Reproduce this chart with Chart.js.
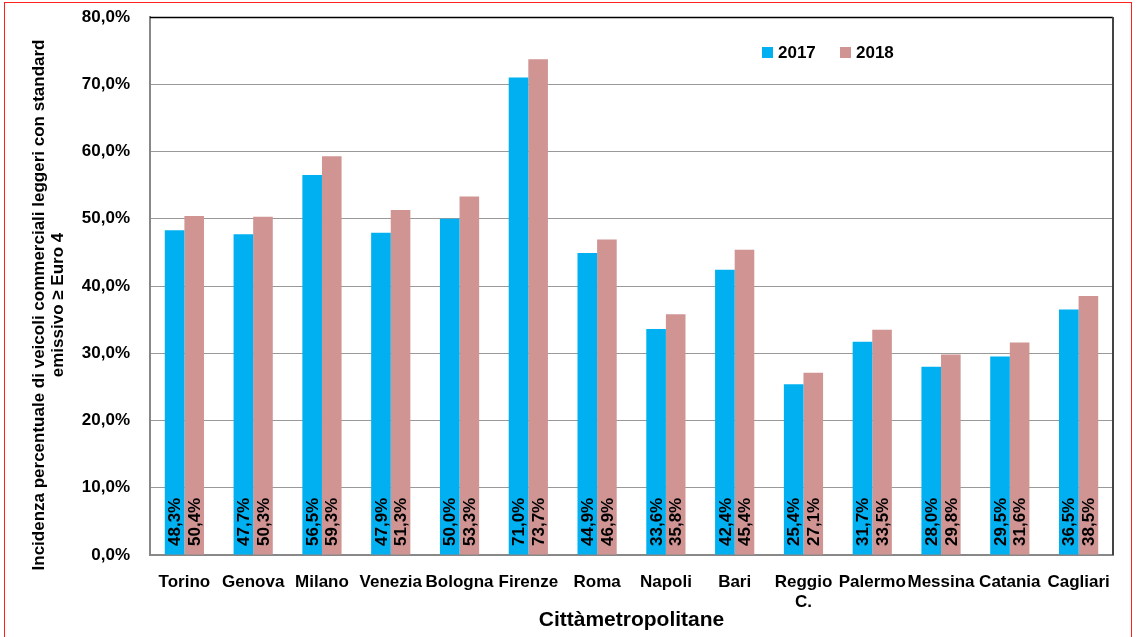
<!DOCTYPE html>
<html><head><meta charset="utf-8">
<script src="https://cdn.jsdelivr.net/npm/chart.js@4"></script>
<style>
html,body{margin:0;padding:0;background:#fff;overflow:hidden}
#wrap{position:relative;width:1139px;height:637px}
#frame{position:absolute;left:4px;top:2px;width:1128px;height:660px;border:1px solid #ff2020;box-sizing:border-box}
canvas{position:absolute;left:0;top:0}
</style></head><body>
<div id="wrap"><div id="frame"></div><canvas id="c" width="1139" height="637"></canvas></div>
<script>
const categories = ['Torino','Genova','Milano','Venezia','Bologna','Firenze','Roma','Napoli','Bari',['Reggio','C.'],'Palermo','Messina','Catania','Cagliari'];
const values2017 = [48.3,47.7,56.5,47.9,50.0,71.0,44.9,33.6,42.4,25.4,31.7,28.0,29.5,36.5];
const values2018 = [50.4,50.3,59.3,51.3,53.3,73.7,46.9,35.8,45.4,27.1,33.5,29.8,31.6,38.5];
const seriesLabels = ['2017','2018'];
const yTitle = ['Incidenza percentuale di veicoli commerciali leggeri con standard','emissivo \u2265 Euro 4'];
const xTitle = 'Citt\u00e0metropolitane';

const FF = '"Liberation Sans",Arial,sans-serif';
const fmt = v => v.toFixed(1).replace('.',',') + '%';

const labelPlugin = {
  id:'labels',
  afterDatasetsDraw(chart){
    const ctx = chart.ctx;
    const a = chart.chartArea;
    ctx.save();
    ctx.font = 'bold 17px ' + FF;
    ctx.fillStyle = '#000';
    ctx.textAlign = 'left';
    ctx.textBaseline = 'middle';
    chart.data.datasets.forEach((ds,di)=>{
      const meta = chart.getDatasetMeta(di);
      meta.data.forEach((bar,i)=>{
        ctx.save();
        ctx.translate(bar.x+1, a.bottom - 9);
        ctx.rotate(-Math.PI/2);
        ctx.fillText(fmt(ds.data[i]),0,0);
        ctx.restore();
      });
    });
    // plot border top / right
    ctx.strokeStyle = '#000'; ctx.lineWidth = 1.5;
    ctx.beginPath(); ctx.moveTo(a.left, a.top+0.5); ctx.lineTo(a.right, a.top+0.5); ctx.stroke();
    ctx.strokeStyle = '#444'; ctx.lineWidth = 2;
    ctx.beginPath(); ctx.moveTo(a.right, a.top); ctx.lineTo(a.right, a.bottom); ctx.stroke();
    // legend
    ctx.font = 'bold 17px ' + FF;
    ctx.textBaseline = 'middle';
    let x = 762;
    chart.data.datasets.forEach((ds)=>{
      ctx.fillStyle = ds.backgroundColor;
      ctx.fillRect(x, 47, 11, 11);
      ctx.fillStyle = '#000';
      ctx.fillText(ds.label, x+16, 53);
      x += 78;
    });
    // y axis title
    ctx.font = 'bold 17px ' + FF;
    ctx.textAlign = 'center';
    ctx.fillStyle = '#000';
    ctx.save();
    ctx.translate(39, 305);
    ctx.rotate(-Math.PI/2);
    ctx.fillText(yTitle[0], 0, 0);
    ctx.fillText(yTitle[1], 0, 19);
    ctx.restore();
    ctx.restore();
  }
};

new Chart(document.getElementById('c'),{
  type:'bar',
  data:{
    labels:categories,
    datasets:[
      {label:seriesLabels[0],data:values2017,backgroundColor:'#00B0F0',barPercentage:1,categoryPercentage:0.57},
      {label:seriesLabels[1],data:values2018,backgroundColor:'#D09493',barPercentage:1,categoryPercentage:0.57}
    ]
  },
  options:{
    responsive:false,animation:false,
    layout:{padding:{top:17,right:26,left:0,bottom:0}},
    plugins:{legend:{display:false},tooltip:{enabled:false}},
    scales:{
      x:{
        grid:{display:false,drawTicks:false},
        border:{color:'#888',width:2},
        ticks:{color:'#000',font:{family:FF,size:17,weight:'bold'},padding:17,maxRotation:0,autoSkip:false},
        title:{display:true,text:xTitle,color:'#000',font:{family:FF,size:21,weight:'bold'},padding:{top:4}},
        afterFit(s){s.height=82;s.paddingLeft=0;s.paddingRight=0;}
      },
      y:{
        min:0,max:80,
        grid:{color:'#999',lineWidth:1,drawTicks:false},
        border:{color:'#888',width:2},
        ticks:{stepSize:10,color:'#000',font:{family:FF,size:17,weight:'bold'},padding:20,callback:v=>fmt(v)},
        afterFit(s){s.width=150;s.paddingTop=0;s.paddingBottom=0;}
      }
    }
  },
  plugins:[labelPlugin]
});
</script>
</body></html>
